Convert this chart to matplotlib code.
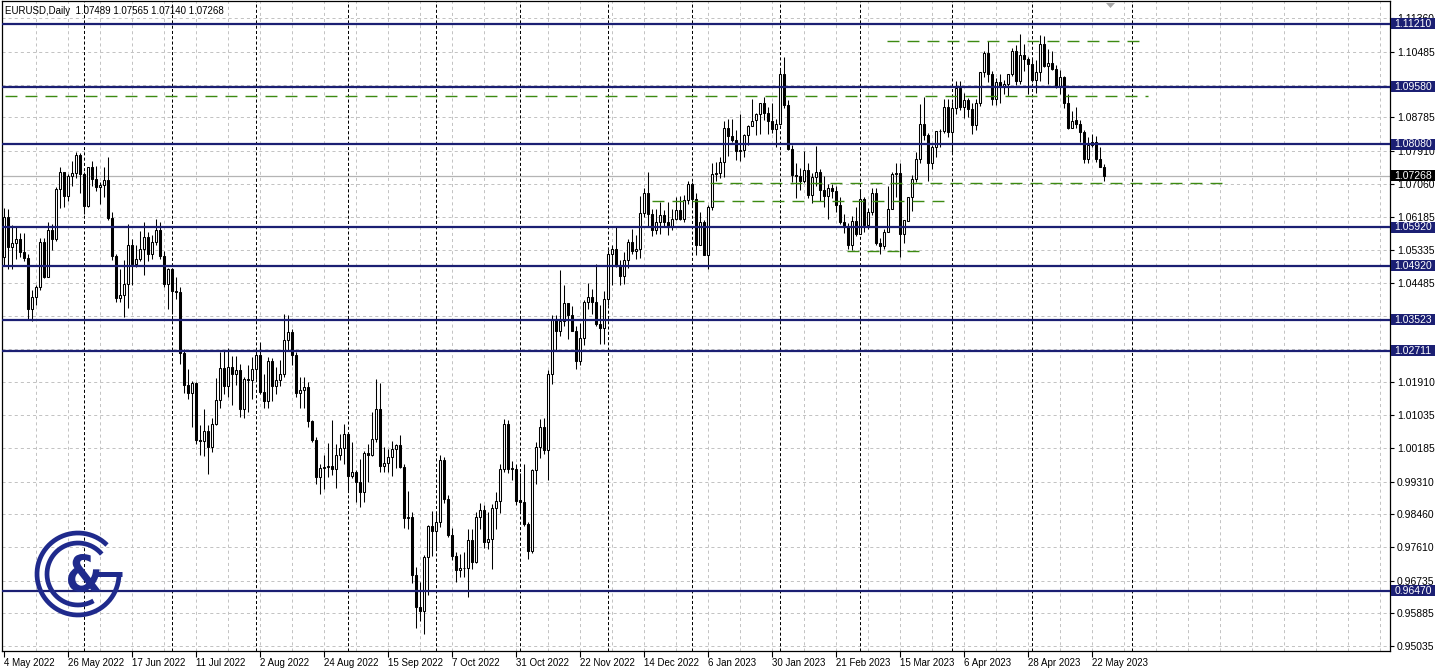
import matplotlib
matplotlib.use('Agg')
import matplotlib.pyplot as plt
from matplotlib.patches import Rectangle, Polygon, PathPatch
from matplotlib.textpath import TextPath
from matplotlib.font_manager import FontProperties
from matplotlib.transforms import Affine2D
import numpy as np

plt.rcParams['lines.scale_dashes'] = False
plt.rcParams['font.family'] = ['Liberation Sans', 'DejaVu Sans']

W, H = 1437, 670

# ---------------- data ----------------
opens = [1.0516,1.0619,1.0540,1.0551,1.0561,1.0528,1.0513,1.0381,1.0411,1.0436,
         1.0553,1.0464,1.0585,1.0563,1.0691,1.0735,1.0675,1.0725,1.0733,1.0780,
         1.0732,1.0648,1.0748,1.0719,1.0696,1.0703,1.0716,1.0617,1.0518,1.0408,
         1.0417,1.0446,1.0546,1.0496,1.0510,1.0535,1.0568,1.0523,1.0554,1.0584,
         1.0518,1.0444,1.0484,1.0426,1.0425,1.0265,1.0182,1.0162,1.0187,1.0040,
         1.0037,1.0062,1.0020,1.0081,1.0142,1.0226,1.0179,1.0230,1.0212,1.0222,
         1.0120,1.0199,1.0196,1.0225,1.0260,1.0165,1.0140,1.0245,1.0180,1.0195,
         1.0210,1.0298,1.0321,1.0259,1.0161,1.0170,1.0178,1.0089,1.0038,0.9943,
         0.9966,0.9968,0.9971,0.9965,1.0000,1.0019,1.0054,0.9945,0.9955,0.9930,
         0.9904,1.0006,1.0000,1.0043,1.0121,0.9972,0.9980,0.9995,1.0015,1.0025,
         0.9970,0.9837,0.9838,0.9689,0.9606,0.9594,0.9735,0.9815,0.9802,0.9825,
         0.9986,0.9885,0.9793,0.9738,0.9700,0.9706,0.9706,0.9780,0.9723,0.9840,
         0.9858,0.9775,0.9782,0.9862,0.9880,0.9965,1.0080,0.9965,0.9965,0.9882,
         0.9877,0.9820,0.9751,0.9960,1.0020,1.0074,1.0014,1.0210,1.0355,1.0323,
         1.0350,1.0395,1.0363,1.0323,1.0244,1.0305,1.0397,1.0410,1.0397,1.0341,
         1.0330,1.0405,1.0522,1.0535,1.0492,1.0466,1.0507,1.0555,1.0530,1.0535,
         1.0630,1.0681,1.0626,1.0584,1.0607,1.0625,1.0605,1.0594,1.0615,1.0637,
         1.0613,1.0662,1.0705,1.0665,1.0546,1.0605,1.0520,1.0644,1.0730,1.0734,
         1.0762,1.0851,1.0829,1.0820,1.0790,1.0794,1.0831,1.0856,1.0870,1.0886,
         1.0915,1.0890,1.0868,1.0849,1.0861,1.0990,1.0910,1.0796,1.0727,1.0726,
         1.0714,1.0740,1.0677,1.0724,1.0737,1.0689,1.0673,1.0694,1.0686,1.0650,
         1.0606,1.0594,1.0546,1.0608,1.0576,1.0667,1.0598,1.0633,1.0682,1.0551,
         1.0545,1.0581,1.0641,1.0731,1.0734,1.0576,1.0610,1.0670,1.0719,1.0770,
         1.0860,1.0832,1.0760,1.0800,1.0843,1.0842,1.0906,1.0839,1.0902,1.0955,
         1.0904,1.0922,1.0901,1.0859,1.0915,1.0995,1.1046,1.0992,1.0926,1.0971,
         1.0956,1.0965,1.0990,1.1050,1.0972,1.1040,1.1029,1.1018,1.0975,1.0996,
         1.1070,1.1011,1.1020,1.1005,1.0960,1.0983,1.0915,1.0850,1.0870,1.0862,
         1.0840,1.0770,1.0806,1.0815,1.0771,1.07489]
highs = [1.0642,1.0641,1.0599,1.0593,1.0578,1.0578,1.0524,1.0429,1.0442,1.0564,
         1.0565,1.0605,1.0600,1.0697,1.0748,1.0737,1.0732,1.0765,1.0787,1.0786,
         1.0737,1.0750,1.0764,1.0752,1.0710,1.0748,1.0774,1.0631,1.0524,1.0483,
         1.0506,1.0601,1.0561,1.0545,1.0583,1.0606,1.0580,1.0572,1.0615,1.0606,
         1.0531,1.0486,1.0486,1.0463,1.0436,1.0277,1.0223,1.0192,1.0189,1.0079,
         1.0120,1.0079,1.0097,1.0200,1.0269,1.0273,1.0278,1.0257,1.0258,1.0236,
         1.0202,1.0234,1.0254,1.0274,1.0294,1.0212,1.0254,1.0253,1.0229,1.0248,
         1.0368,1.0364,1.0327,1.0267,1.0202,1.0202,1.0191,1.0091,1.0047,0.9976,
         0.9999,1.0032,1.0090,1.0028,1.0055,1.0080,1.0057,1.0033,0.9960,0.9990,
         1.0011,1.0030,1.0113,1.0198,1.0187,1.0020,1.0017,1.0036,1.0030,1.0051,
         0.9977,0.9907,0.9852,0.9710,0.9671,0.9740,0.9817,0.9854,0.9852,0.9999,
         0.9994,0.9897,0.9810,0.9749,0.9744,0.9749,0.9808,0.9808,0.9851,0.9876,
         0.9870,0.9851,0.9872,0.9904,0.9976,1.0094,1.0090,0.9985,0.9976,0.9953,
         0.9976,0.9827,0.9964,1.0033,1.0093,1.0096,1.0222,1.0364,1.0365,1.0480,
         1.0441,1.0396,1.0388,1.0335,1.0343,1.0404,1.0448,1.0433,1.0497,1.0390,
         1.0426,1.0534,1.0545,1.0595,1.0506,1.0528,1.0562,1.0588,1.0571,1.0673,
         1.0695,1.0736,1.0640,1.0640,1.0657,1.0637,1.0658,1.0640,1.0672,1.0675,
         1.0677,1.0714,1.0710,1.0681,1.0631,1.0610,1.0650,1.0760,1.0761,1.0776,
         1.0868,1.0874,1.0874,1.0845,1.0888,1.0835,1.0858,1.0927,1.0889,1.0915,
         1.0930,1.0904,1.0915,1.0874,1.1000,1.1034,1.0923,1.0805,1.0760,1.0747,
         1.0790,1.0760,1.0734,1.0804,1.0743,1.0725,1.0706,1.0706,1.0699,1.0670,
         1.0626,1.0604,1.0621,1.0646,1.0691,1.0670,1.0643,1.0694,1.0695,1.0565,
         1.0589,1.0700,1.0737,1.0760,1.0759,1.0612,1.0670,1.0729,1.0788,1.0912,
         1.0930,1.0838,1.0805,1.0843,1.0848,1.0926,1.0925,1.0918,1.0973,1.0972,
         1.0941,1.0928,1.0915,1.0925,1.0997,1.1050,1.1076,1.0998,1.0981,1.0990,
         1.0975,1.0991,1.1058,1.1065,1.1095,1.1069,1.1035,1.1030,1.1027,1.1092,
         1.1090,1.1055,1.1050,1.1015,1.1000,1.0985,1.0940,1.0895,1.0904,1.0870,
         1.0846,1.0828,1.0836,1.0830,1.0802,1.07565]
lows = [1.0493,1.0483,1.0484,1.0509,1.0514,1.0505,1.0350,1.0349,1.0390,1.0428,
        1.0461,1.0462,1.0532,1.0556,1.0642,1.0645,1.0661,1.0700,1.0720,1.0681,
        1.0627,1.0644,1.0700,1.0687,1.0653,1.0670,1.0612,1.0506,1.0398,1.0397,
        1.0359,1.0382,1.0443,1.0489,1.0505,1.0468,1.0505,1.0510,1.0545,1.0509,
        1.0436,1.0381,1.0366,1.0407,1.0236,1.0162,1.0145,1.0072,1.0030,1.0000,
        0.9998,0.9952,1.0007,1.0078,1.0123,1.0160,1.0152,1.0130,1.0181,1.0100,
        1.0096,1.0113,1.0145,1.0197,1.0160,1.0123,1.0123,1.0141,1.0159,1.0180,
        1.0203,1.0272,1.0234,1.0152,1.0122,1.0123,1.0073,1.0033,0.9926,0.9900,
        0.9911,0.9943,0.9949,0.9914,0.9988,0.9978,0.9910,0.9941,0.9877,0.9864,
        0.9877,0.9930,0.9997,1.0035,0.9956,0.9955,0.9956,0.9945,0.9967,0.9966,
        0.9811,0.9807,0.9668,0.9551,0.9569,0.9536,0.9637,0.9738,0.9753,0.9813,
        0.9875,0.9786,0.9727,0.9670,0.9683,0.9682,0.9632,0.9705,0.9720,0.9807,
        0.9758,0.9755,0.9705,0.9808,0.9850,0.9957,0.9954,0.9935,0.9870,0.9854,
        0.9815,0.9730,0.9745,0.9924,0.9992,1.0004,0.9935,1.0186,1.0270,1.0309,
        1.0336,1.0302,1.0323,1.0223,1.0235,1.0287,1.0381,1.0367,1.0336,1.0290,
        1.0290,1.0391,1.0443,1.0488,1.0443,1.0444,1.0487,1.0524,1.0510,1.0513,
        1.0618,1.0594,1.0569,1.0575,1.0574,1.0592,1.0573,1.0586,1.0612,1.0610,
        1.0605,1.0652,1.0650,1.0519,1.0546,1.0519,1.0483,1.0636,1.0713,1.0720,
        1.0724,1.0777,1.0813,1.0767,1.0765,1.0775,1.0805,1.0856,1.0833,1.0836,
        1.0870,1.0834,1.0838,1.0801,1.0859,1.0902,1.0794,1.0710,1.0669,1.0689,
        1.0707,1.0668,1.0655,1.0700,1.0661,1.0644,1.0613,1.0668,1.0632,1.0602,
        1.0577,1.0536,1.0533,1.0570,1.0576,1.0580,1.0589,1.0625,1.0546,1.0524,
        1.0537,1.0579,1.0643,1.0670,1.0516,1.0552,1.0609,1.0635,1.0710,1.0759,
        1.0820,1.0713,1.0745,1.0776,1.0802,1.0838,1.0828,1.0788,1.0888,1.0898,
        1.0877,1.0880,1.0836,1.0845,1.0907,1.0984,1.0970,1.0910,1.0909,1.0915,
        1.0938,1.0935,1.0985,1.0963,1.0965,1.0999,1.0940,1.0970,1.0942,1.0974,
        1.1008,1.0966,1.1000,1.0954,1.0940,1.0903,1.0848,1.0850,1.0850,1.0813,
        1.0760,1.0759,1.0802,1.0762,1.0748,1.07140]
closes = opens[1:] + [1.07268]

date_labels = ['4 May 2022', '26 May 2022', '17 Jun 2022', '11 Jul 2022', '2 Aug 2022',
               '24 Aug 2022', '15 Sep 2022', '7 Oct 2022', '31 Oct 2022', '22 Nov 2022',
               '14 Dec 2022', '6 Jan 2023', '30 Jan 2023', '21 Feb 2023', '15 Mar 2023',
               '6 Apr 2023', '28 Apr 2023', '22 May 2023']
price_ticks = [1.11360, 1.10485, 1.09635, 1.08785, 1.07910, 1.07060, 1.06185, 1.05335,
               1.04485, 1.03610, 1.02760, 1.01910, 1.01035, 1.00185, 0.99310, 0.98460,
               0.97610, 0.96735, 0.95885, 0.95035]
hidden_ticks = [1.09635, 1.03610, 1.02760]   # covered by level labels in the original
levels = [1.11210, 1.09580, 1.08080, 1.05920, 1.04920, 1.03523, 1.02711, 0.96470]
last_price = 1.07268
month_starts = [20, 42, 63, 86, 108, 129, 151, 172, 194, 214, 237, 257, 282]
# trend lines: (start bar, end bar, price)
green_x0 = [220.75, 0.25, 176.5, 162.0, 210.75]
green_x1 = [285.25, 286.0, 306.5, 235.75, 230.75]
green_p = [1.10767, 1.09337, 1.07075, 1.06607, 1.05307]

# ---------------- layout ----------------
fig = plt.figure(figsize=(W / 100, H / 100), dpi=100)
L_PX, R_PX, T_PX, B_PX = 2, 1390, 1, 651
ax = fig.add_axes([L_PX / W, 1 - B_PX / H, (R_PX - L_PX) / W, (B_PX - T_PX) / H])
SCALE = 0.00026
def p_at(y):
    return 1.00185 + (448.0 - y) * SCALE
ax.set_ylim(p_at(B_PX), p_at(T_PX))
ax.set_xlim((L_PX - 4) / 4, (R_PX - 4) / 4)

NAVY = '#1b1f73'
GRID = '#c3c3c3'
GREEN = '#3d8a12'

# grid
for gx in np.arange(8, 347, 8):
    ax.axvline(gx, color=GRID, lw=0.72, ls=(0, (2.2, 2.2)), zorder=0)
for pt in price_ticks:
    ax.axhline(pt, color=GRID, lw=0.72, ls=(0, (2.2, 2.2)), zorder=0)
for ms in month_starts:
    ax.axvline(ms, color='black', lw=0.72, ls=(0, (2.2, 1.6)), zorder=0.5)

# last price line
ax.axhline(last_price, color='#b4b4b4', lw=0.9, zorder=0.6)

# candles
n = len(closes)
idx = np.arange(n)
o = np.array(opens); c = np.array(closes); hi = np.array(highs); lo = np.array(lows)
ax.vlines(idx, lo, hi, color='black', lw=0.75, zorder=2)
bull = c >= o
body_lo = np.minimum(o, c)
body_h = np.maximum(np.abs(c - o), 0.00004)
ax.bar(idx[bull], body_h[bull], bottom=body_lo[bull], width=0.5, color='white',
       edgecolor='black', linewidth=0.75, zorder=3)
ax.bar(idx[~bull], body_h[~bull], bottom=body_lo[~bull], width=0.5, color='black',
       edgecolor='black', linewidth=0.75, zorder=3)

# horizontal levels
for lv in levels:
    ax.axhline(lv, color=NAVY, lw=1.6, zorder=4)

# green dashed trend lines
for x0, x1, gp in zip(green_x0, green_x1, green_p):
    ax.plot([x0, x1], [gp, gp], color=GREEN, lw=1.0, ls=(0, (8.6, 5.8)), zorder=4)

# axes styling
for s in ['left', 'bottom', 'right', 'top']:
    ax.spines[s].set_color('black')
    ax.spines[s].set_linewidth(0.9)
ax.yaxis.tick_right()
ax.set_yticks(price_ticks)
ax.set_yticklabels(['' if t in hidden_ticks else '%.5f' % t for t in price_ticks])
ax.set_xticks(np.arange(len(date_labels)) * 16)
ax.set_xticklabels(date_labels, ha='left')
ax.tick_params(axis='y', length=3, width=0.8, labelsize=7.5, pad=2, colors='black')
ax.tick_params(axis='x', length=4, width=0.8, labelsize=7, pad=1, colors='black')
ax.set_facecolor('white')

# overlay in pixel coordinates (top-down)
ov = fig.add_axes([0, 0, 1, 1])
ov.set_xlim(0, W); ov.set_ylim(H, 0); ov.axis('off'); ov.patch.set_alpha(0)

def pix_y(price):
    return H - ax.transData.transform((0, price))[1]

for lv in levels:
    yy = pix_y(lv)
    ov.add_patch(Rectangle((1391, yy - 5.5), 44, 11, facecolor=NAVY, edgecolor='none', zorder=5))
    ov.text(1413, yy, '%.5f' % lv, color='white', fontsize=7.5, ha='center', va='center', zorder=6)
yy = pix_y(last_price)
ov.add_patch(Rectangle((1391, yy - 5.5), 44, 11, facecolor='black', edgecolor='none', zorder=5))
ov.text(1413, yy, '%.5f' % last_price, color='white', fontsize=7.5, ha='center', va='center', zorder=6)

# chart-shift marker
ov.add_patch(Polygon([[1106, 3], [1115, 3], [1110.5, 8]], closed=True, facecolor='#a8a8a8',
                     edgecolor='none', zorder=6))

# header
ov.text(5, 11, 'EURUSD,Daily  1.07489 1.07565 1.07140 1.07268', fontsize=7,
        ha='left', va='center', color='black')

# logo
LOGO = '#1f2a8c'
cx, cy = 78, 574
a = np.radians(np.linspace(45, 360, 200))
ov.plot(cx + 41 * np.cos(a), cy - 41 * np.sin(a), color=LOGO, lw=3.4, solid_capstyle='butt', zorder=7)
a2 = np.radians(np.linspace(40, 300, 200))
ov.plot(cx + 31 * np.cos(a2), cy - 31 * np.sin(a2), color=LOGO, lw=3.4, solid_capstyle='butt', zorder=7)
ov.plot([95, 121.5], [574, 574], color=LOGO, lw=3.6, solid_capstyle='butt', zorder=7)
tp = TextPath((0, 0), '&', size=50, prop=FontProperties(family='DejaVu Sans', weight='bold'))
bb = tp.get_extents()
sx, sy = 33.0 / bb.width, 38.0 / bb.height
tr = Affine2D().translate(-bb.x0, -bb.y0).scale(sx, -sy).translate(68, 592)
ov.add_patch(PathPatch(tr.transform_path(tp), facecolor=LOGO, edgecolor='none', zorder=7))

fig.savefig('out.png', dpi=100, facecolor='white')
